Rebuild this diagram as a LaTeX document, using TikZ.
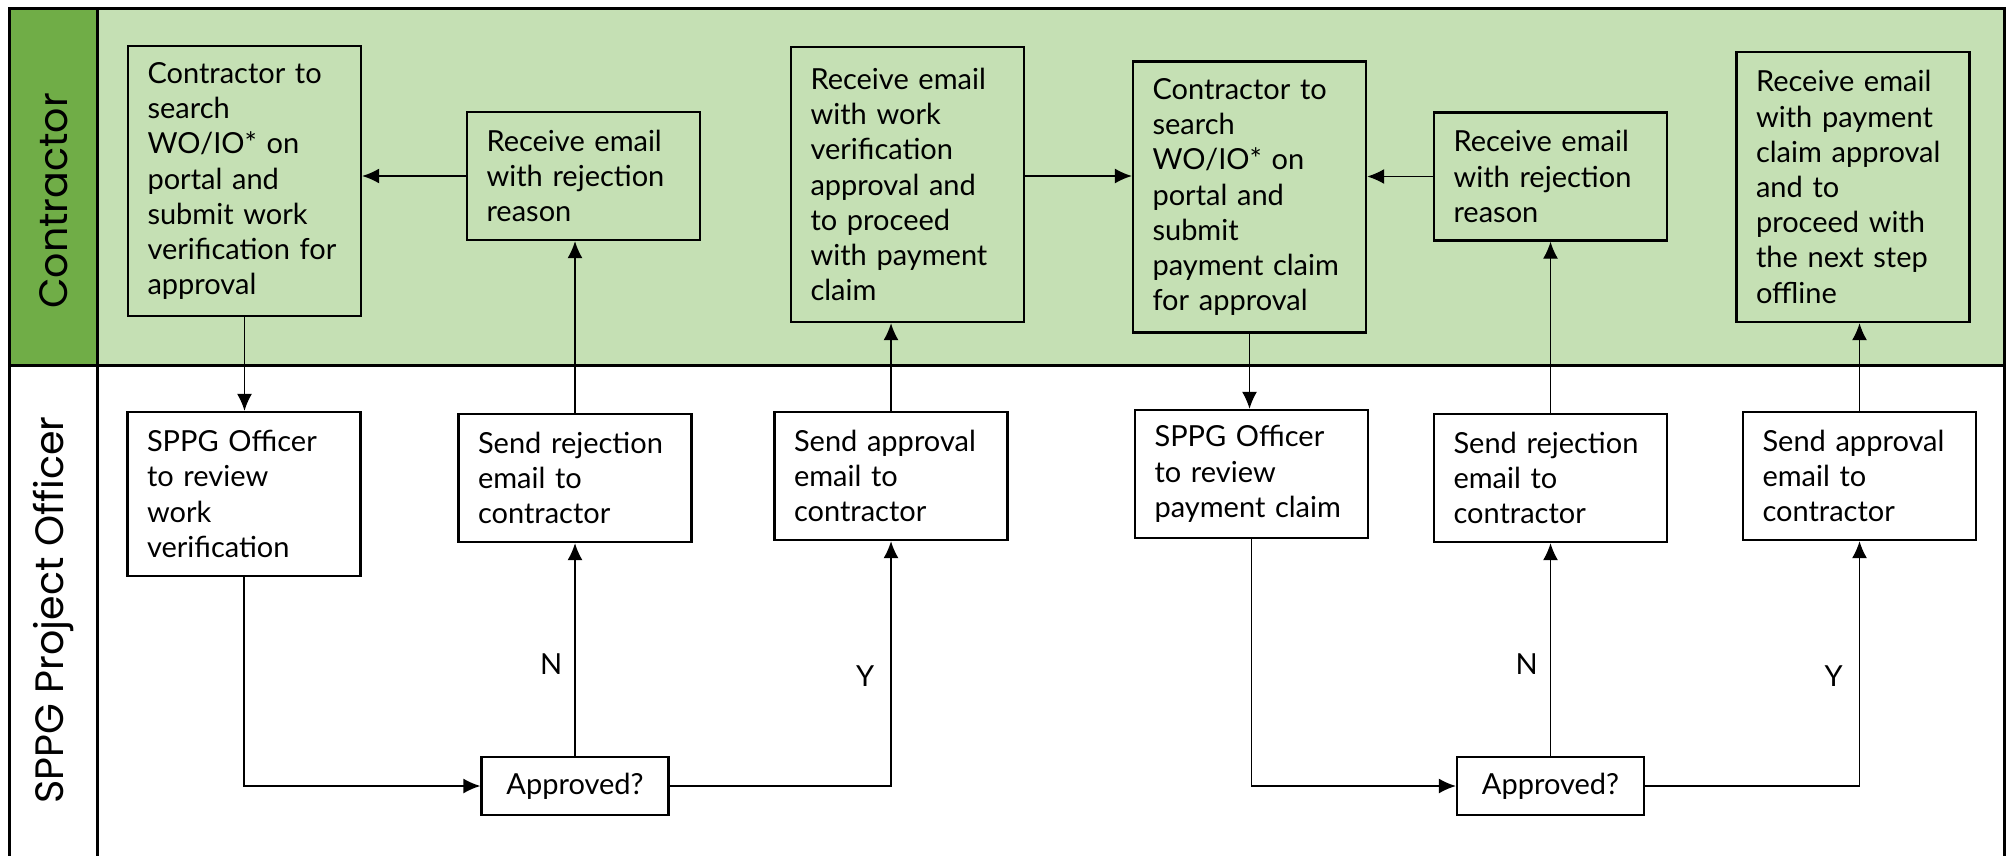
\documentclass[tikz,border=0pt]{standalone}
\usepackage{fontspec}
\setmainfont{Lato}
\newfontfamily\lanefont{Poppins}
\usetikzlibrary{arrows.meta}

\definecolor{lanelight}{HTML}{C5E0B4}
\definecolor{lanedark}{HTML}{70AD47}

\begin{document}
\begin{tikzpicture}[
  x=0.5pt, y=-0.5pt,
  boxtext/.style={font=\fontsize{14.5}{17.6}\selectfont},
  stepbox/.style={boxtext, draw, line width=1.2pt, fill=white,
    text width=97pt, inner xsep=9.75pt, inner ysep=0pt, align=left},
  cbox/.style={stepbox, fill=lanelight},
  decbox/.style={boxtext, draw, line width=1.2pt, fill=white,
    minimum width=93.5pt, minimum height=29pt, inner sep=0pt},
  flow/.style={line width=0.7pt, -{Latex[length=8.5pt,width=7.5pt]}},
  lanelabel/.style={font=\lanefont\fontsize{19.8}{22}\selectfont, rotate=90},
  edgelabel/.style={boxtext, inner sep=0pt},
  frame/.style={line width=1.5pt}
]
\useasboundingbox (0,0) rectangle (2007,856);

% swimlane backgrounds
\fill[lanelight] (97,9) rectangle (2004,365);
\fill[lanedark] (9,9) rectangle (97,365);

% swimlane frame
\draw[frame] (9,856) -- (9,9) -- (2004,9) -- (2004,856);
\draw[frame] (97,9) -- (97,856);
\draw[frame] (9,365) -- (2004,365);

% lane titles
\node[lanelabel] (laneC) at (53.5,201) {Contractor};
\node[lanelabel] (laneO) at (53.5,610) {SPPG Project Officer};

% contractor lane
\node[cbox, minimum height=135pt] (C1) at (244.5,181)
  {Contractor to\\search\\WO/IO* on\\portal and\\submit work\\verification for\\approval};
\node[cbox, minimum height=64pt] (C2) at (583.5,176)
  {Receive email\\with rejection\\reason};
\node[cbox, minimum height=137.5pt] (C3) at (907.5,184.5)
  {Receive email\\with work\\verification\\approval and\\to proceed\\with payment\\claim};
\node[cbox, minimum height=135.5pt] (C4) at (1249.5,197)
  {Contractor to\\search\\WO/IO* on\\portal and\\submit\\payment claim\\for approval};
\node[cbox, minimum height=64pt] (C5) at (1550.5,176.5)
  {Receive email\\with rejection\\reason};
\node[cbox, minimum height=135pt] (C6) at (1853,187)
  {Receive email\\with payment\\claim approval\\and to\\proceed with\\the next step\\offline};

% project officer lane
\node[stepbox, minimum height=82pt] (O1) at (244,494)
  {SPPG Officer\\to review\\work\\verification};
\node[stepbox, minimum height=64pt] (O2) at (575,478)
  {Send rejection\\email to\\contractor};
\node[stepbox, minimum height=64pt] (O3) at (891,476)
  {Send approval\\email to\\contractor};
\node[stepbox, minimum height=64pt] (O4) at (1251.5,474)
  {SPPG Officer\\to review\\payment claim};
\node[stepbox, minimum height=64pt] (O5) at (1550.5,478)
  {Send rejection\\email to\\contractor};
\node[stepbox, minimum height=64pt] (O6) at (1859.5,476)
  {Send approval\\email to\\contractor};

\node[decbox] (D1) at (575,786) {Approved?};
\node[decbox] (D2) at (1550.5,786) {Approved?};

% work verification loop
\draw[flow] (C2.west) -- (C2.west -| C1.east);
\draw[flow] (C1.south) -- (C1.south |- O1.north);
\draw[flow] (O1.south) |- (D1.west);
\draw[flow] (D1.north) -- node[edgelabel, pos=0.43, left=6pt] (n1) {N} (O2.south);
\draw[flow] (O2.north) -- (O2.north |- C2.south);
\draw[flow] (D1.east) -| node[edgelabel, pos=0.725, left=8pt] (y1) {Y} (O3.south);
\draw[flow] (O3.north) -- (O3.north |- C3.south);

% payment claim loop
\draw[flow] (C3.east |- C2.west) -- (C4.west |- C2.west);
\draw[flow] (C4.south) -- (C4.south |- O4.north);
\draw[flow] (O4.south) |- (D2.west);
\draw[flow] (D2.north) -- node[edgelabel, pos=0.43, left=6pt] (n2) {N} (O5.south);
\draw[flow] (O5.north) -- (O5.north |- C5.south);
\draw[flow] (C5.west) -- (C5.west -| C4.east);
\draw[flow] (D2.east) -| node[edgelabel, pos=0.725, left=8pt] (y2) {Y} (O6.south);
\draw[flow] (O6.north) -- (O6.north |- C6.south);
\end{tikzpicture}
\end{document}
